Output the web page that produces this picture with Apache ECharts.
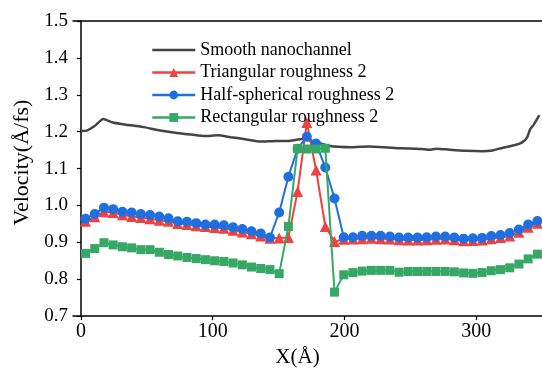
<!DOCTYPE html>
<html>
<head>
<meta charset="utf-8">
<script src="https://cdn.jsdelivr.net/npm/echarts@6/dist/echarts.min.js"></script>
<style>html,body{margin:0;padding:0;background:#fff;}#c{width:542px;height:373px;}</style>
</head>
<body>
<div id="c"></div>
<script>
// Smooth channel profile (x, velocity)
const smoothX = [0.7, 4.5, 10.7, 16.9, 24.3, 34.3, 46.7, 59, 71.5, 84, 94, 104, 113.7, 123.5, 136, 148.5, 157, 168.4, 188, 205.7, 218, 230.5, 243, 255, 264, 270, 280, 292.5, 305, 312.4, 317.4, 329.8, 335, 338.6, 341, 343.7, 348];
const smoothY = [1.202, 1.203, 1.216, 1.234, 1.225, 1.219, 1.213, 1.204, 1.197, 1.192, 1.188, 1.190, 1.185, 1.180, 1.173, 1.175, 1.175, 1.180, 1.162, 1.158, 1.160, 1.158, 1.155, 1.154, 1.151, 1.154, 1.151, 1.148, 1.147, 1.149, 1.154, 1.164, 1.171, 1.184, 1.206, 1.219, 1.245];

// Bin centres for rough channels
const binX = [3.5,10.5,17.5,24.5,31.5,38.5,45.5,52.5,59.5,66.5,73.5,80.5,87.5,94.5,101.5,108.5,115.5,122.5,129.5,136.5,143.5,150.5,157.5,164.5,171.5,178.5,185.5,192.5,199.5,206.5,213.5,220.5,227.5,234.5,241.5,248.5,255.5,262.5,269.5,276.5,283.5,290.5,297.5,304.5,311.5,318.5,325.5,332.5,339.5,346.5];

const triY = [0.957,0.969,0.983,0.981,0.975,0.970,0.967,0.964,0.960,0.957,0.951,0.948,0.945,0.943,0.940,0.938,0.933,0.928,0.923,0.917,0.911,0.912,0.913,1.038,1.225,1.096,0.943,0.902,0.908,0.909,0.910,0.911,0.910,0.909,0.907,0.906,0.906,0.907,0.908,0.909,0.907,0.904,0.905,0.906,0.910,0.913,0.917,0.927,0.941,0.952];
const halfY = [0.964,0.977,0.994,0.990,0.983,0.981,0.977,0.974,0.970,0.965,0.957,0.956,0.952,0.948,0.948,0.946,0.941,0.936,0.930,0.924,0.913,0.981,1.078,1.154,1.186,1.168,1.103,1.019,0.914,0.914,0.918,0.918,0.918,0.916,0.913,0.913,0.913,0.914,0.916,0.916,0.913,0.910,0.911,0.912,0.917,0.920,0.925,0.935,0.948,0.958];
const rectY = [0.870,0.883,0.899,0.893,0.888,0.885,0.880,0.880,0.873,0.867,0.863,0.859,0.856,0.853,0.850,0.848,0.844,0.839,0.833,0.829,0.826,0.815,0.943,1.154,1.153,1.153,1.155,0.765,0.812,0.818,0.822,0.824,0.824,0.824,0.819,0.821,0.821,0.821,0.821,0.821,0.820,0.817,0.816,0.818,0.823,0.826,0.831,0.841,0.855,0.868];

const xTicks = [0, 100, 200, 300];
const names = ['Smooth nanochannel', 'Triangular roughness 2', 'Half-spherical roughness 2', 'Rectangular roughness 2'];

function pairs(xs, ys) { return xs.map((x, i) => [x, ys[i]]); }

const font = 'Liberation Serif';
const chart = echarts.init(document.getElementById('c'), null, {renderer: 'canvas'});
const XMIN = -6, XMAX = 350;
chart.setOption({
  animation: false,
  backgroundColor: '#fff',
  grid: {left: 73, right: -8, top: 21, bottom: 46, containLabel: false},
  legend: {
    orient: 'vertical', left: 146, top: 34,
    itemWidth: 43, itemHeight: 11, itemGap: 0.5,
    textStyle: {fontFamily: font, fontSize: 18, color: '#000', lineHeight: 22},
    data: [
      {name: names[0], itemStyle: {opacity: 0, borderWidth: 0}, lineStyle: {width: 2.5}},
      {name: names[1], lineStyle: {width: 2.5}},
      {name: names[2], lineStyle: {width: 2.5}},
      {name: names[3], lineStyle: {width: 2.5}}
    ]
  },
  xAxis: [{
    type: 'value', min: XMIN, max: XMAX,
    name: 'X(Å)', nameLocation: 'middle', nameGap: 26,
    nameTextStyle: {fontFamily: font, fontSize: 21, color: '#000', padding: [0, 20, 0, 0]},
    axisLine: {show: true, lineStyle: {color: '#000', width: 1.5}},
    axisTick: {show: true, inside: false, length: 4, customValues: xTicks, lineStyle: {color: '#000', width: 1.2}},
    axisLabel: {customValues: xTicks, fontFamily: font, fontSize: 20, color: '#000', margin: 6},
    splitLine: {show: false}
  }, {
    type: 'value', position: 'top', min: XMIN, max: XMAX,
    axisLine: {show: true, lineStyle: {color: '#000', width: 1.5}},
    axisTick: {show: false}, axisLabel: {show: false}, splitLine: {show: false}
  }],
  yAxis: {
    type: 'value', min: 0.7, max: 1.5, interval: 0.1,
    name: 'Velocity(Å/fs)', nameLocation: 'middle', nameGap: 40,
    nameTextStyle: {fontFamily: font, fontSize: 22, color: '#000', padding: [0, 0, 0, 12]},
    axisLine: {show: true, lineStyle: {color: '#000', width: 1.5}},
    axisTick: {show: true, inside: false, length: 4, lineStyle: {color: '#000', width: 1.2}},
    axisLabel: {fontFamily: font, fontSize: 19, color: '#000', margin: 5, formatter: v => v.toFixed(1)},
    splitLine: {show: false}
  },
  series: [
    {name: names[0], type: 'line', data: pairs(smoothX, smoothY), symbol: 'none',
     smooth: 0.2, lineStyle: {color: '#444', width: 2.5}, itemStyle: {color: '#444'}, z: 1},
    {name: names[1], type: 'line', data: pairs(binX, triY), symbol: 'triangle', symbolSize: 11,
     lineStyle: {color: '#f04040', width: 2}, itemStyle: {color: '#f04040'}, z: 2},
    {name: names[2], type: 'line', data: pairs(binX, halfY), symbol: 'circle', symbolSize: 10,
     lineStyle: {color: '#1f6fe0', width: 2}, itemStyle: {color: '#1f6fe0'}, z: 3},
    {name: names[3], type: 'line', data: pairs(binX, rectY), symbol: 'rect', symbolSize: 9,
     lineStyle: {color: '#35a866', width: 2}, itemStyle: {color: '#35a866'}, z: 4}
  ]
});
</script>
</body>
</html>
